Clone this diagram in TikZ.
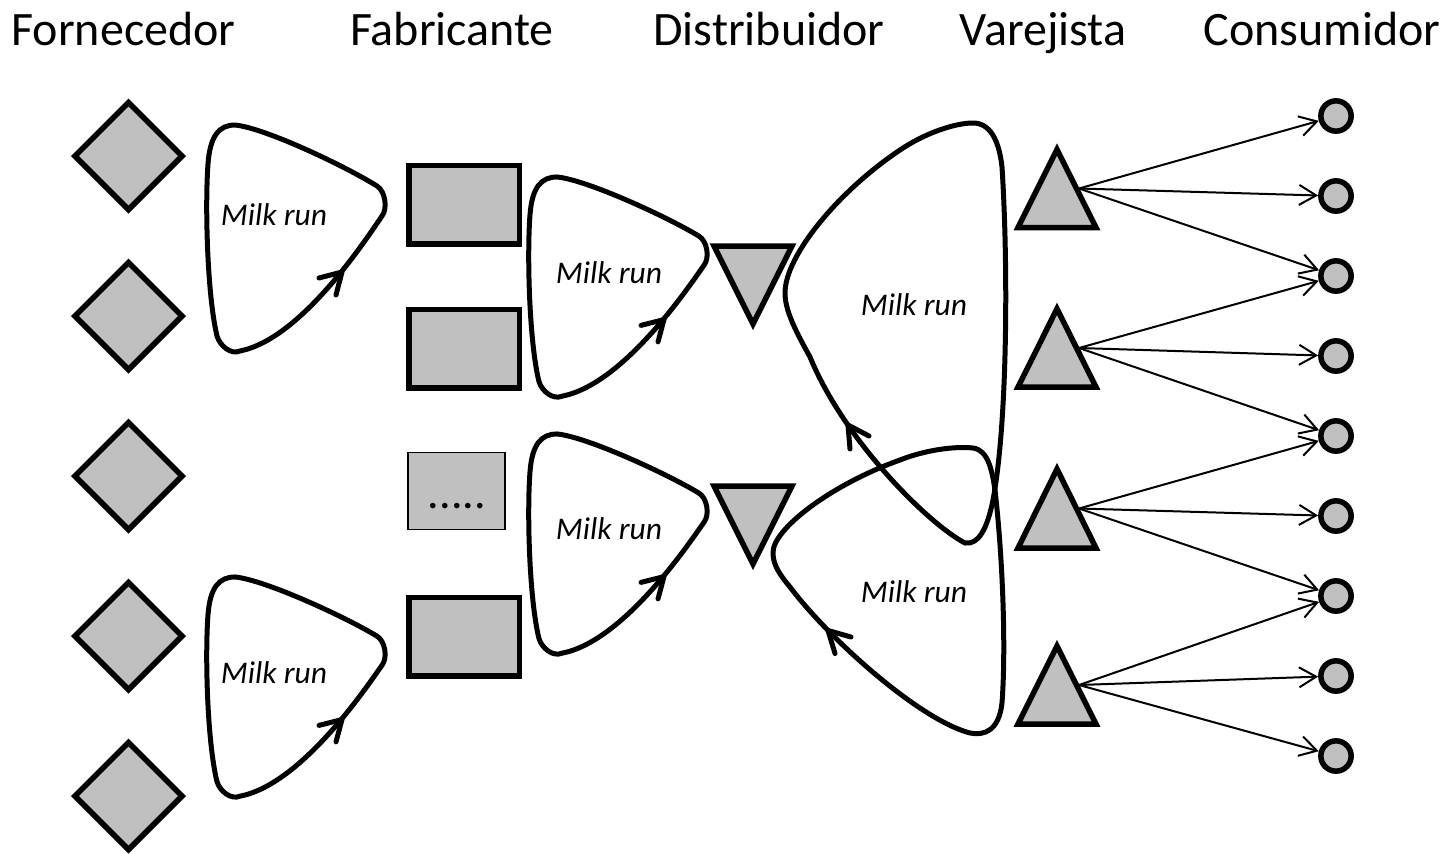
\documentclass[tikz,border=0pt]{standalone}
\usepackage{fontspec}
\setmainfont{Carlito}
\usetikzlibrary{arrows.meta,shapes.geometric}
\definecolor{shapegray}{RGB}{192,192,192}

\begin{document}
\begin{tikzpicture}[x=1pt,y=-1pt,
  outline/.style={draw=black, line width=5.5pt, fill=shapegray},
  supplier/.style={outline, diamond, inner sep=0pt, minimum size=109.5pt},
  plant/.style={outline, rectangle, inner sep=0pt, minimum width=110.5pt, minimum height=78.5pt},
  consumer/.style={outline, circle, inner sep=0pt, minimum size=30.3pt},
  loopline/.style={draw=black, line width=5pt, line join=round, line cap=round},
  delivery/.style={line width=2pt, -{Straight Barb[length=17pt,width=20pt]}},
  header/.style={font=\fontsize{48}{52}\selectfont, anchor=base, inner sep=0pt},
  looplabel/.style={font=\fontsize{31.5}{34}\selectfont\itshape, anchor=base, inner sep=0pt},
  pics/milkloop/.style={code={
    \draw[loopline] (3,40) .. controls (5,12) and (14,1) .. (30,1)
      .. controls (60,4) and (140,42) .. (172,62)
      .. controls (180,67) and (183,84) .. (177,92)
      .. controls (158,120) and (95,215) .. (35,227)
      .. controls (26,231) and (15,222) .. (12,212)
      .. controls (2,170) and (0,80) .. (3,40) -- cycle;
    \draw[loopline] (114,154) -- (137,148) -- (131,171);
  }},
]
\useasboundingbox (0,0) rectangle (1449,854);

% column headings
\node[header] (hsup) at (123.5,45) {Fornecedor};
\node[header] (hman) at (452,45) {Fabricante};
\node[header] (hdis) at (769,45) {Distribuidor};
\node[header] (hret) at (1043,45) {Varejista};
\node[header] (hcon) at (1322,45) {Consumidor};

% suppliers
\foreach \i/\y in {1/156,2/316,3/476,4/636,5/796}
  \node[supplier] (f\i) at (128.5,\y) {};

% manufacturers
\node[plant] (m1) at (464,204.7) {};
\node[plant] (m2) at (464,348.7) {};
\node[outline, line width=1.5pt, inner sep=0pt, minimum width=97pt, minimum height=77pt] (m3) at (456.7,491.2) {};
\node[font=\fontsize{46}{48}\selectfont, anchor=base, inner sep=0pt] (m3dots) at (457,508.5) {.....};
\node[plant] (m4) at (464.3,636.7) {};

% distributors
\draw[outline] (714,246) -- (792,246) -- (753,324) -- cycle;
\draw[outline] (714,486) -- (792,486) -- (753,564) -- cycle;

% retailers
\draw[outline] (1057,149.5) -- (1096,227.5) -- (1018,227.5) -- cycle;
\draw[outline] (1057,308.8) -- (1096,387) -- (1018,387) -- cycle;
\draw[outline] (1057,469) -- (1096,548) -- (1018,548) -- cycle;
\draw[outline] (1057,646) -- (1096,724) -- (1018,724) -- cycle;
\coordinate (r1) at (1079,188.5);
\coordinate (r2) at (1079,348);
\coordinate (r3) at (1079,508.5);
\coordinate (r4) at (1079,685);

% consumers
\foreach \i/\y in {1/116,2/196,3/276,4/356,5/436,6/516,7/596,8/676,9/756}
  \node[consumer] (c\i) at (1336,\y) {};

% deliveries from retailers to consumers
\foreach \r/\a/\b/\c in {1/1/2/3,2/3/4/5,3/5/6/7,4/7/8/9} {
  \draw[delivery] (r\r) -- (c\a);
  \draw[delivery] (r\r) -- (c\b);
  \draw[delivery] (r\r) -- (c\c);
}

% milk run loops between suppliers and manufacturers
\pic at (205,124) {milkloop};
\pic[yscale=0.97] at (205,576) {milkloop};
\node[looplabel] (l1) at (274,225.7) {Milk run};
\node[looplabel] (l2) at (274,683) {Milk run};

% milk run loops between manufacturers and distributors
\pic[yscale=0.97] at (527,176) {milkloop};
\pic[yscale=0.97] at (527,433) {milkloop};
\node[looplabel] (l3) at (609,283) {Milk run};
\node[looplabel] (l4) at (609,539) {Milk run};

% milk run loops between distributors and retailers
\draw[loopline] (785,293) .. controls (785,255) and (840,190) .. (900,150)
  .. controls (925,133) and (955,123) .. (973,123)
  .. controls (990,123) and (999,140) .. (1002,167)
  .. controls (1008,260) and (1008,420) .. (993,500)
  .. controls (987,530) and (978,545) .. (965,543)
  .. controls (930,525) and (845,442) .. (810,357)
  .. controls (795,330) and (785,310) .. (785,293) -- cycle;
\draw[loopline] (869,436) -- (848,425) -- (850,449);

\draw[loopline] (773,553) .. controls (772,530) and (830,485) .. (900,460)
  .. controls (925,450) and (955,446) .. (973,448)
  .. controls (988,450) and (992,470) .. (995,490)
  .. controls (1003,560) and (1006,650) .. (1002,703)
  .. controls (999,730) and (985,736) .. (970,733)
  .. controls (920,720) and (830,640) .. (790,587)
  .. controls (780,575) and (773,565) .. (773,553) -- cycle;
\draw[loopline] (851,637) -- (828,630.5) -- (835,653.5);

\node[looplabel] (l5) at (914,315) {Milk run};
\node[looplabel] (l6) at (914,602.7) {Milk run};
\end{tikzpicture}
\end{document}
